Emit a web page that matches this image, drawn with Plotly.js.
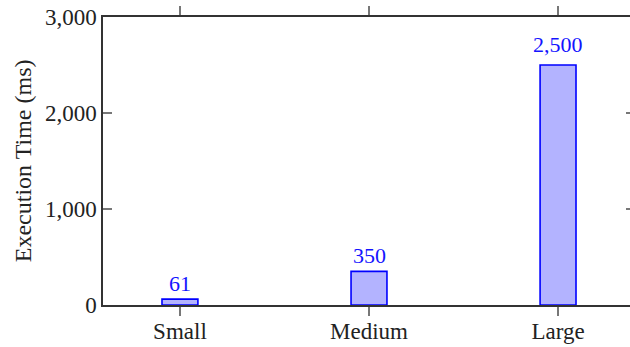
<!DOCTYPE html>
<html>
<head>
<meta charset="utf-8">
<script src="https://cdn.plot.ly/plotly-3.0.1.min.js"></script>
<style>
html,body{margin:0;padding:0;overflow:hidden;background:#fff;}
#chart{width:640px;height:347px;}
</style>
</head>
<body>
<div id="chart"></div>
<script>
const categories = ["Small", "Medium", "Large"];
const execTimes = [61, 350, 2500];
const yTickVals = [0, 1000, 2000, 3000];
const yTickText = ["0", "1,000", "2,000", "3,000"];
const yTitle = "Execution Time (ms)";

const font = "'Liberation Serif', 'DejaVu Serif', serif";
const xPos = categories.map((c, i) => i);
const labels = execTimes.map(v => v.toLocaleString("en-US"));

const trace = {
  type: "bar",
  x: xPos,
  y: execTimes,
  width: 0.19,
  marker: { color: "rgb(179,179,255)", line: { color: "rgb(0,0,255)", width: 1.6 } },
  hoverinfo: "none"
};

// value labels above bars (like pgfplots nodes near coords; comma depth lifts the node)
const annotations = labels.map((t, i) => ({
  x: xPos[i],
  y: execTimes[i],
  xref: "x",
  yref: "y",
  text: t,
  showarrow: false,
  yanchor: "bottom",
  yshift: t.includes(",") ? 6 : 1,
  font: { family: font, size: 22, color: "rgb(20,20,255)" }
}));

// y-axis title placed as a rotated annotation to match the reference position
annotations.push({
  xref: "paper",
  yref: "paper",
  x: -0.150,
  y: 0.5,
  xanchor: "center",
  yanchor: "middle",
  textangle: -90,
  text: yTitle,
  showarrow: false,
  font: { family: font, size: 24, color: "#222" }
});

const layout = {
  width: 640,
  height: 347,
  margin: { l: 103, r: 5, t: 17, b: 42 },
  paper_bgcolor: "#fff",
  plot_bgcolor: "#fff",
  showlegend: false,
  font: { family: font, size: 23, color: "#222" },
  annotations: annotations,
  xaxis: {
    range: [-0.407, 2.407],
    tickvals: xPos,
    ticktext: categories,
    ticks: "outside",
    ticklen: 9,
    tickwidth: 1.2,
    tickcolor: "#777",
    showline: true,
    linecolor: "#333",
    linewidth: 1.6,
    mirror: "ticks",
    showgrid: false,
    zeroline: false,
    ticklabelstandoff: -4,
    tickfont: { family: font, size: 23, color: "#222" }
  },
  yaxis: {
    range: [0, 3000],
    tickvals: yTickVals,
    ticktext: yTickText,
    ticks: "inside",
    ticklen: 9,
    tickwidth: 1.2,
    tickcolor: "#777",
    showline: true,
    linecolor: "#333",
    linewidth: 1.6,
    mirror: "ticks",
    showgrid: false,
    zeroline: false,
    tickfont: { family: font, size: 23, color: "#222" }
  }
};

Plotly.newPlot("chart", [trace], layout, { displayModeBar: false, staticPlot: true });
</script>
</body>
</html>
